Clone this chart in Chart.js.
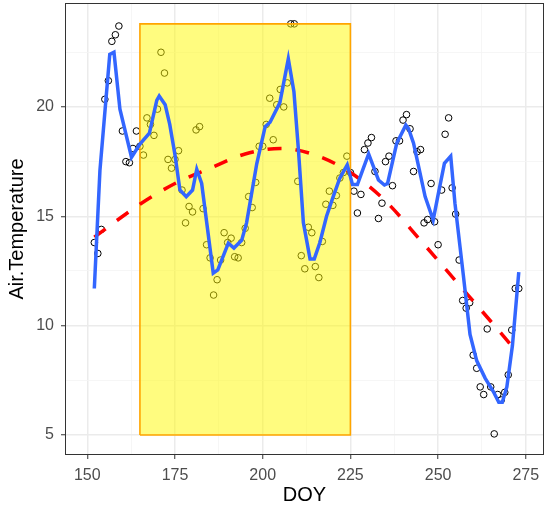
<!DOCTYPE html>
<html>
<head>
<meta charset="utf-8">
<script src="https://cdn.jsdelivr.net/npm/chart.js@4/dist/chart.umd.min.js"></script>
<style>
  html, body { margin: 0; padding: 0; background: #ffffff; }
  #wrap { width: 545px; height: 508px; }
</style>
</head>
<body>
<div id="wrap"><canvas id="myChart" width="545" height="508"></canvas></div>
<script>
// observed daily values
var doy = [152,153,154,155,156,157,158,159,160,161,162,163,164,165,166,167,168,169,170,171,
    172,173,174,175,176,177,178,179,180,181,182,183,184,185,186,187,188,189,190,191,
    192,193,194,195,196,197,198,199,200,201,202,203,204,205,206,207,208,209,210,211,
    212,213,214,215,216,217,218,219,220,221,222,223,224,225,226,227,228,229,230,231,
    232,233,234,235,236,237,238,239,240,241,242,243,244,245,246,247,248,249,250,251,
    252,253,254,255,256,257,258,259,260,261,262,263,264,265,266,267,268,269,270,271,
    272,273];
var airTemp = [13.8,13.3,14.4,20.35,21.2,23.0,23.3,23.7,18.9,17.5,17.45,18.1,18.9,18.2,17.8,19.5,19.2,18.7,19.9,22.5,
    21.55,17.6,17.2,17.6,18.0,16.2,14.7,15.45,15.2,18.95,19.1,15.35,13.7,13.1,11.4,12.1,13.0,14.25,13.8,14.0,
    13.15,13.1,13.8,14.45,15.9,15.4,16.55,18.2,18.2,19.2,20.4,18.5,20.1,20.8,20.0,21.1,23.8,23.8,16.6,13.2,
    12.6,14.5,14.25,12.7,12.2,13.85,15.55,16.15,15.5,15.95,16.75,17.0,17.75,17.0,16.15,15.15,16.0,18.05,18.35,18.6,
    17.05,14.9,15.6,17.5,17.75,16.4,18.45,18.45,19.4,19.65,19.0,17.05,17.95,18.05,14.7,14.85,16.5,14.75,13.7,16.2,
    18.75,19.5,16.3,15.1,13.0,11.15,10.8,11.05,8.65,8.05,7.2,6.85,9.85,7.2,5.05,6.85,6.6,6.95,7.75,9.8,
    11.7,11.7];

// loess curve (blue)
var smoothDoy  = [152,153.6,156.4,157.6,159.3,162.6,165,167.7,169.8,170.5,172.2,173.5,175,176.4,178.2,180,181.2,182.6,185.9,187.2,
    190.2,191.8,194,195.4,198.3,200.7,202.1,204.9,207.3,208.9,210.2,211.6,213.5,214.7,216.3,218.2,220.1,222,224.1,225.6,
    227,228.7,230.2,233,234.7,235.6,238.2,240.8,241.6,243,246.3,248.6,249.9,251.8,253.6,254.8,257.2,259.1,261,263.4,
    265.7,267.3,268.3,269.6,271.2,273];
var smoothTemp = [11.7,17.1,22.4,22.5,19.9,17.7,18.3,18.8,20.3,20.5,20.1,19.2,17.8,16.2,15.9,16.2,17.15,16.5,12.4,12.55,
    13.77,13.55,13.9,14.7,17.4,19.1,19.3,20.2,22.2,20.7,18.0,14.7,13.05,13.05,13.8,15.0,15.9,16.75,17.35,16.45,
    16.45,17.2,17.85,16.66,16.43,16.5,18.34,19.17,19.0,18.34,15.9,14.83,15.9,17.42,17.75,15.6,12.3,9.6,8.4,7.6,
    7.0,6.5,6.5,7.2,9.1,12.45];

// quadratic trend (red dashed)
var trendDoy  = [152,165,175,185,195,205,215,225,235,245,255,265,273];
var trendTemp = [14.05,15.55,16.5,17.2,17.85,18.1,17.8,17.0,15.7,13.9,12.05,10.2,8.7];

// highlighted window
var rectX = [165, 225];
var rectY = [5, Math.max.apply(null, airTemp)];

var xTicks = [150,162.5,175,187.5,200,212.5,225,237.5,250,262.5,275];
var yTicks = [5,7.5,10,12.5,15,17.5,20,22.5];

function toPoints(xs, ys){
    var out = [];
    for (var i = 0; i < xs.length; i++) {
        out.push({x: xs[i], y: ys[i]});
    }
    return out;
}

var panelBorder = {
    id: 'panelBorder',
    afterDatasetsDraw: function(chart){
        var a = chart.chartArea;
        var c = chart.ctx;
        c.save();
        c.strokeStyle = '#333333';
        c.lineWidth = 1;
        c.strokeRect(a.left + 0.5, a.top + 0.5, a.right - a.left - 1, a.bottom - a.top - 1);
        c.restore();
    }
};

// no extra room for half labels at the ends, ggplot does not do that
function noEdgePadding(scale){
    scale.paddingTop = 0;
    scale.paddingBottom = 0;
    scale.paddingLeft = 0;
    scale.paddingRight = 0;
}

var font = "'Liberation Sans', Arial, sans-serif";

var ctx = document.getElementById('myChart').getContext('2d');
var chart = new Chart(ctx, {
    type: 'scatter',
    data: {
        datasets: [
            {
                // blue smooth
                data: toPoints(smoothDoy, smoothTemp),
                showLine: true,
                borderColor: '#3366FF',
                borderWidth: 3.5,
                pointRadius: 0,
                fill: false,
                order: 0
            },
            {
                // red dashed trend
                data: toPoints(trendDoy, trendTemp),
                showLine: true,
                borderColor: '#FF0000',
                borderWidth: 3.5,
                borderDash: [14, 14],
                borderCapStyle: 'butt',
                cubicInterpolationMode: 'monotone',
                pointRadius: 0,
                fill: false,
                order: 1
            },
            {
                // rectangle outline
                data: [
                    {x: rectX[0], y: rectY[0]}, {x: rectX[0], y: rectY[1]},
                    {x: rectX[1], y: rectY[1]}, {x: rectX[1], y: rectY[0]},
                    {x: rectX[0], y: rectY[0]}
                ],
                showLine: true,
                borderColor: '#FFA500',
                borderWidth: 1.6,
                pointRadius: 0,
                fill: false,
                order: 2
            },
            {
                // rectangle fill
                data: [{x: rectX[0], y: rectY[1]}, {x: rectX[1], y: rectY[1]}],
                showLine: true,
                borderWidth: 0,
                borderColor: 'rgba(0,0,0,0)',
                backgroundColor: 'rgba(255,250,0,0.5)',
                fill: {value: rectY[0]},
                pointRadius: 0,
                order: 3
            },
            {
                // observations
                data: toPoints(doy, airTemp),
                pointRadius: 3.3,
                pointBorderWidth: 1,
                pointBorderColor: '#000000',
                pointBackgroundColor: 'rgba(0,0,0,0)',
                showLine: false,
                order: 4
            }
        ]
    },
    options: {
        responsive: false,
        animation: false,
        layout: { autoPadding: false, padding: { top: 3, right: 1, left: 0, bottom: 0 } },
        plugins: {
            legend: { display: false },
            tooltip: { enabled: false }
        },
        scales: {
            x: {
                type: 'linear',
                min: 143.64,
                max: 280.19,
                afterBuildTicks: function(scale){
                    scale.ticks = xTicks.map(function(v){ return {value: v}; });
                },
                afterFit: function(scale){ scale.height = 53; noEdgePadding(scale); },
                border: { display: false },
                grid: {
                    color: function(c){ return (c.tick && c.tick.value % 25 === 0) ? '#EBEBEB' : '#F4F4F4'; },
                    lineWidth: function(c){ return (c.tick && c.tick.value % 25 === 0) ? 1.5 : 0.8; },
                    tickColor: function(c){ return (c.tick && c.tick.value % 25 === 0) ? '#333333' : 'rgba(0,0,0,0)'; },
                    tickLength: 4,
                    tickWidth: 1
                },
                ticks: {
                    autoSkip: false,
                    maxRotation: 0,
                    padding: 7,
                    color: '#4D4D4D',
                    font: { family: font, size: 16 },
                    callback: function(v){ return v % 25 === 0 ? v : ''; }
                },
                title: {
                    display: true,
                    text: 'DOY',
                    color: '#000000',
                    font: { family: font, size: 20 },
                    padding: { top: 0, bottom: 1 }
                }
            },
            y: {
                type: 'linear',
                min: 4.085,
                max: 24.753,
                afterBuildTicks: function(scale){
                    scale.ticks = yTicks.map(function(v){ return {value: v}; });
                },
                afterFit: function(scale){ scale.width = 65; noEdgePadding(scale); },
                border: { display: false },
                grid: {
                    color: function(c){ return (c.tick && c.tick.value % 5 === 0) ? '#EBEBEB' : '#F4F4F4'; },
                    lineWidth: function(c){ return (c.tick && c.tick.value % 5 === 0) ? 1.5 : 0.8; },
                    tickColor: function(c){ return (c.tick && c.tick.value % 5 === 0) ? '#333333' : 'rgba(0,0,0,0)'; },
                    tickLength: 4,
                    tickWidth: 1
                },
                ticks: {
                    autoSkip: false,
                    padding: 7,
                    color: '#4D4D4D',
                    font: { family: font, size: 16 },
                    callback: function(v){ return v % 5 === 0 ? v : ''; }
                },
                title: {
                    display: true,
                    text: 'Air.Temperature',
                    color: '#000000',
                    font: { family: font, size: 20 },
                    padding: { top: 5, bottom: 0 }
                }
            }
        }
    },
    plugins: [panelBorder]
});
</script>
</body>
</html>
